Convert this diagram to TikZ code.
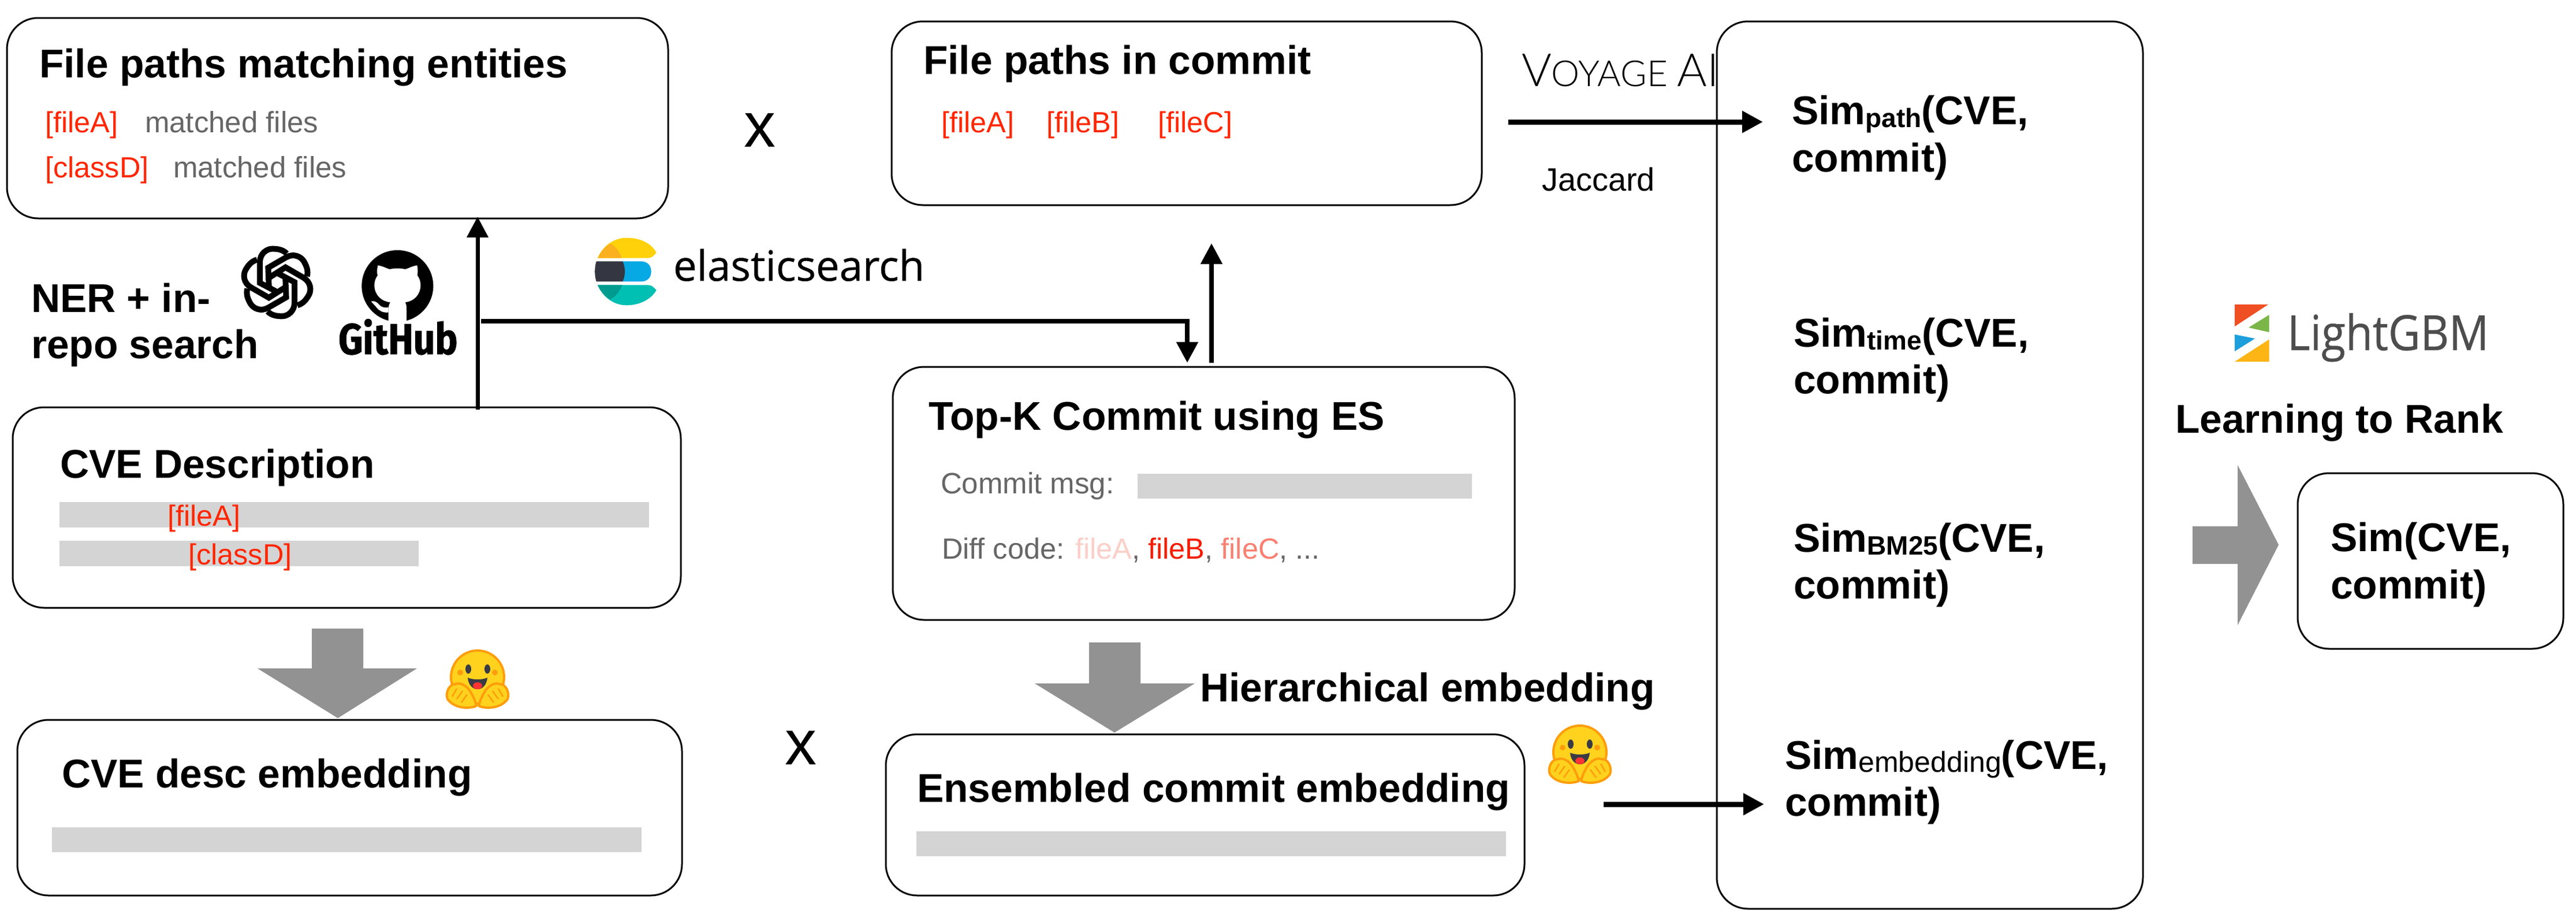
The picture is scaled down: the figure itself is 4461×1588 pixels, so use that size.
\documentclass[tikz,border=0pt]{standalone}
\usepackage{fontspec}
\usepackage{graphicx}
\setmainfont{Liberation Sans}
\newfontfamily\opensans[FakeBold=0.5]{Open Sans}
\newfontfamily\firafont[BoldFeatures={FakeBold=1.2}]{Fira Sans}
\newfontfamily\voyfont{Lato Light}
\usetikzlibrary{arrows.meta}
\newcommand\fs[1]{\fontsize{#1}{#1}\selectfont}
\newcommand\twolines[3]{\vtop{\baselineskip=#3pt\hbox{#1}\hbox{#2}}}
\newcommand\simfirst[1]{Sim\raisebox{-5pt}{\fs{46}#1}(CVE,}
\definecolor{redtxt}{HTML}{FF2600}
\definecolor{graytxt}{HTML}{666666}
\definecolor{barfill}{HTML}{D4D4D4}
\definecolor{bigarrow}{HTML}{929292}
\definecolor{hugy}{HTML}{FFD21E}
\definecolor{hugo}{HTML}{FF9D0B}
\definecolor{hugd}{HTML}{3A3B45}
\tikzset{
  box/.style={draw=black,line width=3pt,rounded corners=54pt,fill=white,inner sep=0pt,outer sep=0pt,anchor=north west},
  txt/.style={inner sep=0pt,outer sep=0pt,anchor=base west,xshift=-2pt},
  title/.style={txt,font=\fs{69.5}\bfseries},
  simt/.style={txt,font=\fs{69.5}\bfseries},
  redlab/.style={txt,font=\fs{50.5},text=redtxt},
  graylab/.style={txt,font=\fs{51},text=graytxt},
  bar/.style={fill=barfill,draw=none},
  bigarr/.style={fill=bigarrow,draw=none},
  arr/.style={line width=8pt,-{Triangle[length=36pt,width=36pt]}},
  flatarr/.style={line width=9pt,-{Triangle[length=36pt,width=36pt]}},
  hug/.pic={
    \fill[hugy,draw=hugo,line width=4pt] (0,48) circle[radius=46];
    \fill[hugo] (-30,40) circle[radius=5] (30,40) circle[radius=5];
    \fill[hugd] (-16,34) ellipse[x radius=5,y radius=8] (17,34) ellipse[x radius=5,y radius=8];
    \fill[hugd] (-17,49) .. controls (-8,53) and (8,53) .. (17,49) .. controls (16,62) and (8,69) .. (0,69) .. controls (-8,69) and (-16,62) .. (-17,49) -- cycle;
    \fill[red!80!white] (0,63) ellipse[x radius=8,y radius=6];
    \foreach \s in {-1,1}{
      \fill[hugy,draw=hugo,line width=4pt,line join=round] (\s*2,98) .. controls (\s*14,103) and (\s*40,103) .. (\s*52,86) .. controls (\s*56,76) and (\s*50,60) .. (\s*38,60) .. controls (\s*28,56) and (\s*16,66) .. (\s*12,74) .. controls (\s*6,84) and (\s*4,90) .. (\s*2,98) -- cycle;
      \draw[hugo,line width=2.5pt] (\s*26,72) -- (\s*36,86) (\s*36,68) -- (\s*44,82) (\s*18,78) -- (\s*28,92);
    }
  }
}
\begin{document}
\begin{tikzpicture}[x=1pt,y=-1pt]
\useasboundingbox (0,0) rectangle (4461,1588);
\fill[white] (0,0) rectangle (4461,1588);

% boxes
\node[box,minimum width=1145pt,minimum height=347pt] (files) at (12,31) {};
\node[box,minimum width=1157pt,minimum height=347pt] (cve) at (22,705) {};
\node[box,minimum width=1151pt,minimum height=304pt] (cveemb) at (30,1246) {};
\node[box,minimum width=1022pt,minimum height=318pt] (commitpaths) at (1544,37) {};
\node[box,minimum width=1077pt,minimum height=438pt] (topk) at (1546,635) {};
\node[box,minimum width=1106pt,minimum height=279pt] (ens) at (1534,1271) {};
\node[box,minimum width=738pt,minimum height=1536pt] (sims) at (2973,37) {};
\node[box,minimum width=460pt,minimum height=304pt] (final) at (3979,819) {};

% grey bars
\fill[bar] (103,869) rectangle (1124,913);
\fill[bar] (103,936) rectangle (725,980);
\fill[bar] (90,1432) rectangle (1111,1475);
\fill[bar] (1970,820) rectangle (2549,863);
\fill[bar] (1587,1439) rectangle (2608,1482);

% big grey arrows
\fill[bigarr] (540,1088) -- (629,1088) -- (629,1157) -- (722,1157) -- (585,1243) -- (446,1157) -- (540,1157) -- cycle;
\fill[bigarr] (1886,1112) -- (1975,1112) -- (1975,1183) -- (2069,1183) -- (1930,1268) -- (1792,1183) -- (1886,1183) -- cycle;
\fill[bigarr] (3797,911) -- (3875,911) -- (3875,805) -- (3946,943) -- (3875,1082) -- (3875,976) -- (3797,976) -- cycle;

% box texts
\node[title] (t1) at (70,134) {File paths matching entities};
\node[redlab] (fa1) at (80,229) {[fileA]};
\node[graylab] (mf1) at (253,229) {matched files};
\node[redlab] (cd1) at (80,307) {[classD]};
\node[graylab] (mf2) at (302,307) {matched files};
\node[title] (t2) at (106,827) {CVE Description};
\node[redlab] (fa2) at (292,910) {[fileA]};
\node[redlab] (cd2) at (328,977) {[classD]};
\node[title] (t3) at (109,1363) {CVE desc embedding};
\node[title] (t4) at (1601,128) {File paths in commit};
\node[redlab] (fa3) at (1632,229) {[fileA]};
\node[redlab] (fb3) at (1814,229) {[fileB]};
\node[redlab] (fc3) at (2007,229) {[fileC]};
\node[title] (t5) at (1610,744) {Top-K Commit using ES};
\node[graylab] (cm) at (1631,854) {Commit msg:};
\node[graylab,font=\fs{50.5}] (dc) at (1633,967) {Diff code: \textcolor[HTML]{FBCFC9}{fileA}, \textcolor[HTML]{F41C00}{fileB}, \textcolor[HTML]{F98071}{fileC}, ...};
\node[title] (t6) at (1590,1388) {Ensembled commit embedding};
\node[title] (hier) at (2080,1214) {Hierarchical embedding};
\node[txt,font=\fs{69.5}\bfseries] (ner) at (56,540) {\twolines{NER + in-}{repo search}{80}};
\node[txt,font=\fs{110}] (x1) at (1290,254) {x};
\node[txt,font=\fs{110}] (x2) at (1361,1323) {x};

% sim labels
\node[simt] (s1) at (3105,215) {\twolines{\simfirst{path}}{commit)}{82}};
\node[simt] (s2) at (3108,600) {\twolines{\simfirst{time}}{commit)}{81}};
\node[simt] (s3) at (3108,955) {\twolines{\simfirst{BM25}}{commit)}{81}};
\node[simt] (s4) at (3093,1331) {\twolines{Sim\raisebox{-5pt}{\fs{50}\mdseries embedding}(CVE,}{commit)}{81}};
\node[simt] (s5) at (4038,954) {\twolines{Sim(CVE,}{commit)}{82}};
\node[txt,font=\fs{69.5}\bfseries] (ltr) at (3769,749) {Learning to Rank};
\node[txt,font=\fs{56}] (jac) at (2672,330) {Jaccard};
\node[txt] (voy) at (2637,149) {\voyfont\scalebox{1.0}[1]{\fs{79}V\fs{62}OYAGE \fs{79}AI}};

% connectors
\coordinate (up1x) at (827,0);
\coordinate (hs) at (833,556);
\coordinate (hc) at (2056,556);
\coordinate (up2x) at (2098,0);
\coordinate (vs) at (2612,211);
\coordinate (ve) at (3053,211);
\coordinate (es) at (2777,1392);
\coordinate (ee) at (3055,1392);
\draw[arr,line width=7pt,shorten <=-4pt,shorten >=-3pt] (up1x |- cve.north) -- (up1x |- files.south);
\draw[arr] (hs) -- (hc) -- ([yshift=7pt]hc |- topk.north);
\draw[arr,shorten <=7pt] (up2x |- topk.north) -- ([yshift=-66pt]up2x |- commitpaths.south);
\draw[flatarr] (vs) -- (ve);
\draw[flatarr] (es) -- (ee);

% OpenAI mark
\begin{scope}[shift={(480,489)},scale=1/3]
\foreach \a in {0,60,...,300}{
  \draw[line width=10pt,rotate=\a,line join=miter] (5,52) -- (-90,2) -- (-90,-105) .. controls (-90,-150) and (-55,-175) .. (-25,-175) .. controls (5,-175) and (30,-170) .. (50,-150);
}
\end{scope}

% GitHub mark
\begin{scope}[shift={(400,410)},scale=1/3]
\fill[black] (865,255) circle[radius=186];
\fill[white] (763,148) .. controls (790,152) and (810,165) .. (825,168) .. controls (850,162) and (880,162) .. (905,168) .. controls (920,165) and (940,152) .. (967,148) .. controls (972,170) and (970,190) .. (968,200) .. controls (980,215) and (985,235) .. (985,250) .. controls (985,300) and (950,335) .. (905,340) .. controls (912,350) and (912,365) .. (912,380) -- (912,445) -- (818,445) -- (818,380) .. controls (818,365) and (820,350) .. (828,340) .. controls (780,335) and (745,300) .. (745,250) .. controls (745,235) and (750,215) .. (762,200) .. controls (758,190) and (758,170) .. (763,148) -- cycle;
\fill[white] (728,335) .. controls (745,330) and (760,340) .. (770,352) .. controls (780,365) and (800,370) .. (818,366) -- (818,392) .. controls (790,395) and (770,385) .. (755,365) .. controls (745,352) and (735,345) .. (728,335) -- cycle;
\end{scope}
\node[txt] (gh) at (588,613) {\firafont\bfseries\fs{75}\scalebox{0.875}[1]{GitHub}};

% elasticsearch mark
\begin{scope}[shift={(1010,400)},scale=1/3]
\fill[color={rgb,255:red,254;green,209;blue,10}] (75,140) .. controls (105,70) and (165,35) .. (225,35) .. controls (300,35) and (355,65) .. (380,112) .. controls (365,130) and (355,140) .. (335,140) -- cycle;
\fill[color={rgb,255:red,251;green,176;blue,31}] (75,140) .. controls (90,105) and (115,80) .. (140,65) .. controls (170,80) and (190,110) .. (200,140) -- cycle;
\fill[color={rgb,255:red,7;green,169;blue,229}] (205,157) -- (300,157) .. controls (335,157) and (353,180) .. (353,210) .. controls (353,240) and (335,262) .. (300,262) -- (205,262) -- cycle;
\fill[color={rgb,255:red,52;green,55;blue,65}] (68,157) -- (205,157) .. controls (220,190) and (220,230) .. (205,262) -- (68,262) .. controls (58,230) and (58,190) .. (68,157) -- cycle;
\fill[color={rgb,255:red,0;green,191;blue,179}] (75,280) -- (335,280) .. controls (355,280) and (365,290) .. (380,307) .. controls (355,350) and (300,385) .. (225,385) .. controls (165,385) and (105,350) .. (75,280) -- cycle;
\fill[color={rgb,255:red,1;green,155;blue,143}] (75,280) -- (203,280) .. controls (190,310) and (170,340) .. (140,355) .. controls (115,340) and (90,315) .. (75,280) -- cycle;
\end{scope}
\node[txt,font=\opensans\fs{72.5}] (es) at (1168,486) {elasticsearch};

% hugging faces
\pic at (827,1124) {hug};
\pic at (2736,1254) {hug};

% LightGBM logo
\fill[color={rgb,255:red,240;green,78;blue,35}] (3870,527) -- (3928,527) -- (3870,565) -- cycle;
\fill[color={rgb,255:red,122;green,182;blue,72}] (3929.5,545) -- (3894,567) -- (3929.5,575) -- cycle;
\fill[color={rgb,255:red,29;green,159;blue,219}] (3870,579) -- (3905,586) -- (3870,608) -- cycle;
\fill[color={rgb,255:red,253;green,181;blue,21}] (3929.5,587.5) -- (3870,626) -- (3929.5,626) -- cycle;
\node[txt,text={rgb,255:red,77;green,77;blue,77}] (lgbm) at (3963,606) {\opensans\fs{84}\scalebox{0.91}[1]{LightGBM}};
\end{tikzpicture}
\end{document}
